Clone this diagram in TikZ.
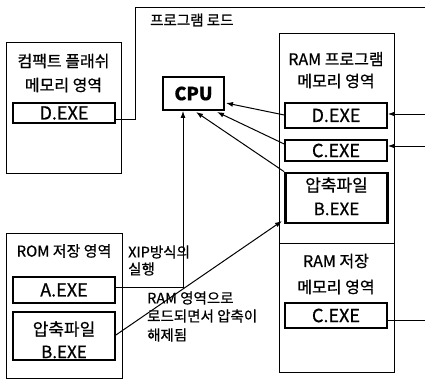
\documentclass[tikz,border=0pt]{standalone}
\usepackage{fontspec}
\setmainfont{Noto Sans CJK KR}[FakeBold=0.7]
\usetikzlibrary{arrows.meta}
\begin{document}
\begin{tikzpicture}[x=1pt,y=-1pt,
  outer/.style={draw, line width=1pt},
  inbox/.style={draw, line width=1.6pt, minimum height=#1, minimum width=102pt, inner sep=0pt, font=\fontsize{18}{20}\selectfont},
  inbox/.default=25pt,
  ttl/.style={font=\fontsize{16}{18}\selectfont, inner sep=0pt},
  lbl/.style={font=\fontsize{14.5}{16}\selectfont, inner sep=0pt, anchor=west},
  conn/.style={line width=1pt},
  arr/.style={line width=1pt, -{Latex[length=7pt,width=5pt]}}]
\useasboundingbox (0,0) rectangle (425,380);
% compact flash
\node[outer, minimum width=115pt, minimum height=131pt, inner sep=0pt] (cf) at (63.5,107.5) {};
\node[ttl] (cft1) at (63.5,61) {컴팩트 플래쉬};
\node[ttl] (cft2) at (63.5,85) {메모리 영역};
\node[inbox=20pt] (cfD) at (64,113) {D.EXE};
% CPU
\node[draw, line width=1.8pt, minimum width=61pt, minimum height=33pt, inner sep=0pt, font=\bfseries\fontsize{18}{20}\selectfont] (cpu) at (193.5,93.5) {CPU};
% RAM
\node[outer, minimum width=115pt, minimum height=339pt, inner sep=0pt] (ram) at (336.5,202.5) {};
\coordinate (divL) at (279,243);
\coordinate (divR) at (394,243);
\draw[line width=1pt] (divL) -- (divR);
\node[ttl] (rt1) at (336,59) {RAM 프로그램};
\node[ttl] (rt2) at (336,81) {메모리 영역};
\node[inbox=25pt] (ramD) at (336,115.5) {D.EXE};
\node[inbox=21pt] (ramC) at (336,150.5) {C.EXE};
\node[draw, line width=2.6pt, minimum width=102pt, minimum height=50pt, inner sep=0pt] (ramB) at (336.5,198) {};
\node[ttl, font=\fontsize{17}{18}\selectfont] (ramB1) at (336.5,185) {압축파일};
\node[ttl, font=\fontsize{17}{18}\selectfont] (ramB2) at (336.5,209) {B.EXE};
\node[ttl] (rs1) at (336,261) {RAM 저장};
\node[ttl] (rs2) at (336,287) {메모리 영역};
\node[inbox=25pt] (ramC2) at (336,315.5) {C.EXE};
% ROM
\node[outer, minimum width=116pt, minimum height=145pt, inner sep=0pt] (rom) at (64,305.5) {};
\node[ttl, font=\fontsize{15}{16}\selectfont] (romt) at (64,251) {ROM 저장 영역};
\node[inbox=26pt] (romA) at (64,290) {A.EXE};
\node[draw, line width=1.8pt, minimum width=102pt, minimum height=48pt, inner sep=0pt] (romB) at (64,336) {};
\node[ttl, font=\fontsize{17}{18}\selectfont] (romB1) at (64,329) {압축파일};
\node[ttl, font=\fontsize{17}{18}\selectfont] (romB2) at (64,352) {B.EXE};
% labels
\node[lbl] (pl) at (150,20) {프로그램 로드};
\node[lbl] (x1) at (128,252) {XIP방식의};
\node[lbl] (x2) at (128,269) {실행};
\node[lbl] (r1) at (147,298) {RAM 영역으로};
\node[lbl] (r2) at (147,316) {로드되면서 압축이};
\node[lbl] (r3) at (147,335) {해제됨};
% connectors
\coordinate (t1) at (135,119);
\coordinate (t2) at (135,7);
\coordinate (t3) at (425,7);
\draw[conn] (cfD.east |- t1) -- (t1) -- (t2) -- (t3);
\coordinate (eD) at (425,114);
\coordinate (eC) at (425,146);
\coordinate (eC2) at (425,320);
\draw[arr] (eD) -- (ramD.east |- eD);
\draw[arr] (eC) -- (ramC.east |- eC);
\draw[conn] (ramC2.east |- eC2) -- (eC2);
\coordinate (cD) at (226,103);
\coordinate (cC) at (217,112);
\coordinate (cB) at (196,112);
\draw[arr] (ramD.west |- 0,115) -- (cD);
\draw[arr] (ramC.west |- 0,144) -- (cC);
\draw[arr] (ramB.north west) -- (cB);
\coordinate (xa) at (183,287);
\draw[arr] (romA.east |- xa) -- (xa) -- (cpu.south -| xa);
\coordinate (bt) at (282,221);
\draw[arr] (romB.east |- 0,335) -- (bt);
\end{tikzpicture}
\end{document}
